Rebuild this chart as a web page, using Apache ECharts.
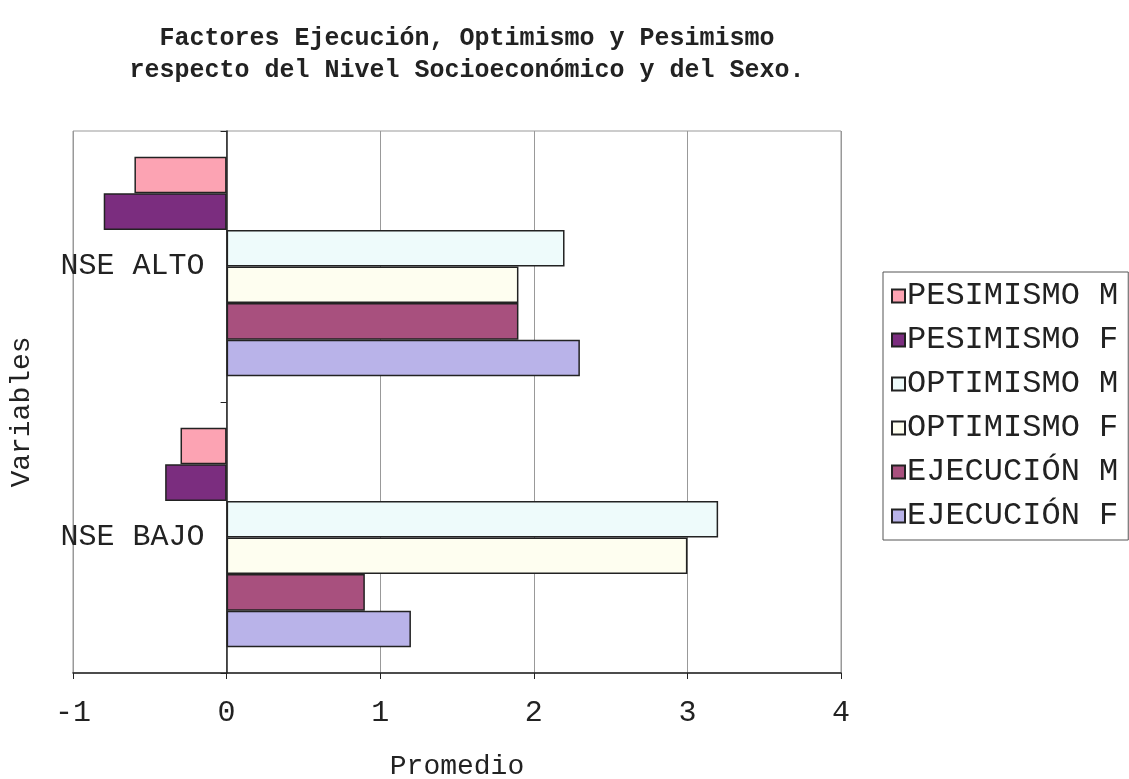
<!DOCTYPE html>
<html>
<head>
<meta charset="utf-8">
<script src="https://cdn.jsdelivr.net/npm/echarts@6/dist/echarts.min.js"></script>
<style>html,body{margin:0;padding:0;background:#fff}#c{width:1129px;height:779px}</style>
</head>
<body>
<div id="c"></div>
<script>
const titleText = 'Factores Ejecución, Optimismo y Pesimismo\nrespecto del Nivel Socioeconómico y del Sexo.';
const categories = ['NSE BAJO', 'NSE ALTO'];
const seriesNames = ['PESIMISMO M', 'PESIMISMO F', 'OPTIMISMO M', 'OPTIMISMO F', 'EJECUCIÓN M', 'EJECUCIÓN F'];
const pesimismoM = [-0.3, -0.6];
const pesimismoF = [-0.4, -0.8];
const optimismoM = [3.2, 2.2];
const optimismoF = [3.0, 1.9];
const ejecucionM = [0.9, 1.9];
const ejecucionF = [1.2, 2.3];
const seriesValues = [pesimismoM, pesimismoF, optimismoM, optimismoF, ejecucionM, ejecucionF];
const seriesColors = ['#fca3b3', '#7b2d7f', '#eefbfb', '#fefef0', '#a8507e', '#b9b3e9'];

const FONT = '"Liberation Mono", "Courier New", monospace';
const GRID_LEFT = 73;
const chart = echarts.init(document.getElementById('c'));
chart.setOption({
  animation: false,
  backgroundColor: '#ffffff',
  title: {
    text: titleText,
    left: 462,
    top: 18,
    textAlign: 'center',
    textStyle: { fontFamily: FONT, fontSize: 25, fontWeight: 'bold', color: '#222', lineHeight: 32 }
  },
  legend: {
    data: seriesNames,
    orient: 'vertical',
    left: 883,
    top: 272,
    padding: [8, 10, 8, 8],
    itemGap: 12,
    itemWidth: 13,
    itemHeight: 13,
    icon: 'rect',
    borderColor: '#555',
    borderWidth: 1,
    textStyle: { fontFamily: FONT, fontSize: 32, color: '#222', padding: [0, 0, 0, -3] }
  },
  graphic: [{
    type: 'text',
    x: 22,
    y: 412,
    rotation: Math.PI / 2,
    style: { text: 'Variables', font: '28px ' + FONT, fill: '#222', align: 'center', verticalAlign: 'middle' }
  }],
  grid: { left: GRID_LEFT, right: 288, top: 131, bottom: 106, show: true, borderColor: '#999', borderWidth: 1, containLabel: false, outerBoundsMode: 'none' },
  xAxis: {
    type: 'value',
    min: -1, max: 4, interval: 1,
    name: 'Promedio',
    nameLocation: 'middle',
    nameGap: 80,
    nameTextStyle: { fontFamily: FONT, fontSize: 28, color: '#222' },
    axisLine: { show: true, onZero: false, lineStyle: { color: '#222', width: 1.5 } },
    axisTick: { show: true, length: 6, lineStyle: { color: '#222' } },
    axisLabel: { fontFamily: FONT, fontSize: 30, color: '#222', margin: 25 },
    splitLine: { show: true, lineStyle: { color: '#999', width: 1 } }
  },
  yAxis: {
    type: 'category',
    data: categories,
    axisLine: { show: true, onZero: false, lineStyle: { color: '#222', width: 1.5 } },
    axisTick: { show: true, length: 6, lineStyle: { color: '#222' } },
    axisLabel: { fontFamily: FONT, fontSize: 30, color: '#222', margin: 22 },
    splitLine: { show: false }
  },
  series: seriesNames.map((n, i) => ({
    name: n,
    type: 'bar',
    data: seriesValues[i],
    barGap: '0%',
    barCategoryGap: '19%',
    itemStyle: { color: seriesColors[i], borderColor: '#222', borderWidth: 1.5 }
  }))
});
// place the category axis (line, ticks, labels) where the value axis crosses zero
const zeroX = chart.convertToPixel({ xAxisIndex: 0 }, 0);
chart.setOption({ yAxis: { offset: -(zeroX - GRID_LEFT) } });
</script>
</body>
</html>
